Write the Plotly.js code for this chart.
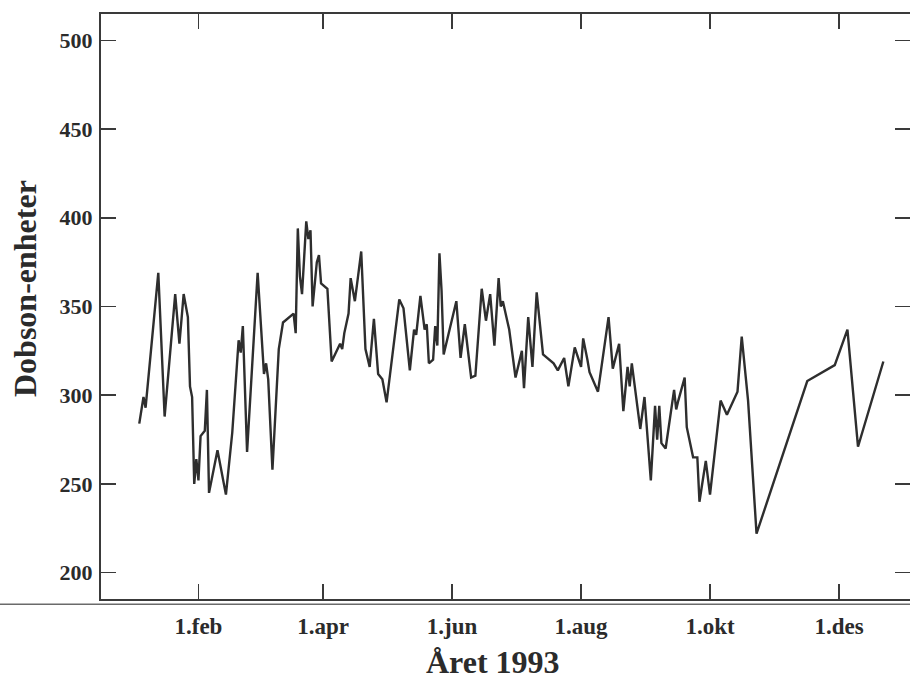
<!DOCTYPE html>
<html>
<head>
<meta charset="utf-8">
<script src="https://cdn.plot.ly/plotly-3.0.1.min.js"></script>
<style>html,body{margin:0;padding:0;background:#fff;}#chart{width:910px;height:682px;}</style>
</head>
<body>
<div id="chart"></div>
<script>
// Day of year 1993 and total ozone (Dobson units)
const dayOfYear = [4,6,7,13,16,21,23,25,27,28,29,30,31,32,33,35,36,37,41,45,48,51,52,53,55,60,63,64,65,67,70,71,72,77,78,79,80,81,83,84,85,86,88,89,90,93,95,99,100,101,103,104,106,109,111,113,115,117,119,121,124,127,129,132,134,135,137,139,140,141,143,144,145,146,147,148,151,154,156,158,161,163,166,168,170,172,174,175,176,179,182,185,186,188,190,192,195,200,202,205,207,210,213,214,216,217,221,226,228,231,233,235,236,237,241,243,246,248,249,250,251,253,257,258,259,262,263,266,268,269,272,274,279,282,287,289,292,296,320,333,339,344,356];
const ozone = [284,299,293,369,288,357,329,357,344,305,299,250,264,252,277,280,303,245,269,244,279,331,324,339,268,369,312,318,309,258,326,333,341,346,335,394,367,357,398,388,393,350,375,379,363,360,319,329,326,335,346,366,353,381,326,316,343,312,309,296,326,354,349,314,337,334,356,337,340,318,320,339,328,380,359,323,338,353,321,340,310,311,360,342,357,328,366,350,353,337,310,325,304,344,316,358,323,318,314,321,305,327,316,332,320,313,302,344,315,329,291,316,305,318,281,299,252,294,275,294,273,270,303,292,297,310,282,265,265,240,263,244,297,289,302,333,297,222,308,317,337,271,319];
const tickDays = [32,91,152,213,274,335];
const tickLabels = ['1.feb','1.apr','1.jun','1.aug','1.okt','1.des'];
const yTicks = [200,250,300,350,400,450,500];
const xTitle = 'Året 1993';
const yTitle = 'Dobson-enheter';

const font = {family:'Liberation Serif, Times New Roman, serif', color:'#2b2b2b', weight:'bold'};
const trace = {
  x: dayOfYear, y: ozone, type:'scatter', mode:'lines',
  line:{color:'#2e2e2e', width:2.4}, hoverinfo:'skip'
};
const axisCommon = {
  showline:true, mirror:'ticks', linecolor:'#3a3a3a', linewidth:2,
  ticks:'inside', ticklen:15, tickwidth:1.5, tickcolor:'#3a3a3a',
  showgrid:false, zeroline:false
};
const layout = {
  width:910, height:682,
  margin:{l:101, r:0, t:14, b:83},
  paper_bgcolor:'#fff', plot_bgcolor:'#fff',
  showlegend:false,
  font: font,
  xaxis: Object.assign({}, axisCommon, {
    range:[-14.1, 368.6], tickmode:'array', tickvals:tickDays, ticktext:tickLabels,
    tickfont:Object.assign({}, font, {size:23}), ticklabelstandoff:5
  }),
  yaxis: Object.assign({}, axisCommon, {
    range:[185.2, 514.8], tickmode:'array', tickvals:yTicks,
    tickfont:Object.assign({}, font, {size:22}), ticklabelstandoff:2
  }),
  annotations:[
    {text:xTitle, xref:'paper', yref:'paper', x:0.4845, y:-0.1077,
     xanchor:'center', yanchor:'middle', showarrow:false,
     font:Object.assign({}, font, {size:32})},
    {text:yTitle, xref:'paper', yref:'paper', x:-0.0939, y:0.53,
     xanchor:'center', yanchor:'middle', showarrow:false, textangle:-90,
     font:Object.assign({}, font, {size:32})}
  ],
  shapes:[
    {type:'line', xref:'paper', yref:'paper', x0:-0.125, x1:1, y0:-0.009, y1:-0.009,
     line:{color:'#6a6a6a', width:1.5}}
  ]
};
Plotly.newPlot('chart', [trace], layout, {staticPlot:true, displayModeBar:false});
</script>
</body>
</html>
